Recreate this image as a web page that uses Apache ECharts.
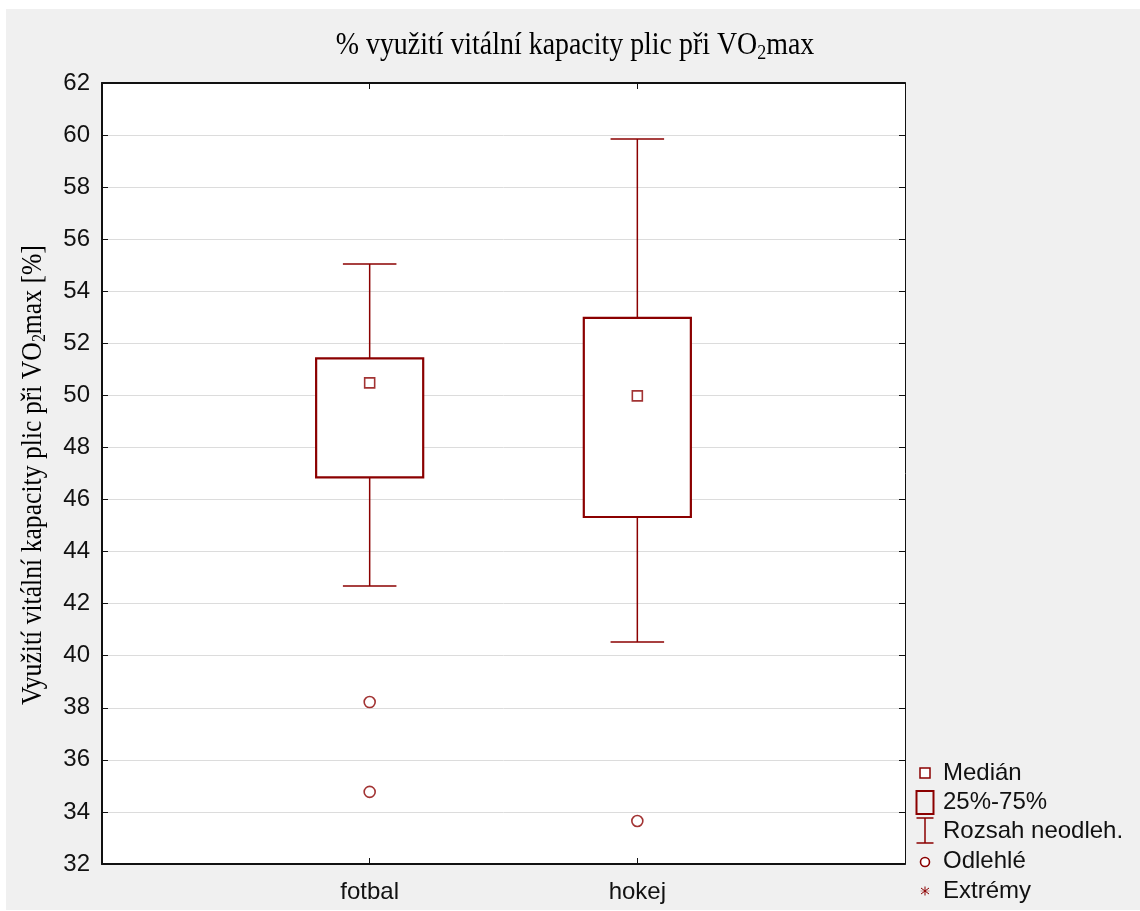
<!DOCTYPE html>
<html>
<head>
<meta charset="utf-8">
<script src="https://cdn.jsdelivr.net/npm/echarts@6/dist/echarts.min.js"></script>
<style>
html,body{margin:0;padding:0;background:#fff;}
#c{width:1140px;height:911px;}
</style>
</head>
<body>
<div id="c"></div>
<script>
// ---- data ----
const categories = ['fotbal', 'hokej'];
const whiskerLow  = [42.68, 40.53];
const q1          = [46.85, 45.33];
const median      = [50.48, 49.98];
const q3          = [51.42, 52.98];
const whiskerHigh = [55.05, 59.85];
const outlierCats = ['fotbal', 'fotbal', 'hokej'];
const outlierVals = [38.22, 34.77, 33.65];
const yTicks = { min: 32, max: 62, interval: 2 };
const legendLabels = ['Medián', '25%-75%', 'Rozsah neodleh.', 'Odlehlé', 'Extrémy'];
const titleText = '{a|% využití vitální kapacity plic při VO}{sub|2}{a|max}';
const yNameText = '{a|Využití vitální kapacity plic při VO}{sub|2}{a|max [%]}';

const RED = '#8B0000';
const SANS = 'Liberation Sans, Arial, sans-serif';
const SERIF = 'Liberation Serif, Times New Roman, serif';

const xCats = [''].concat(categories).concat(['']);
const boxData = categories.map((c, i) => [c, whiskerLow[i], q1[i], q3[i], whiskerHigh[i]]);
const medianData = categories.map((c, i) => [c, median[i]]);
const outlierData = outlierCats.map((c, i) => [c, outlierVals[i]]);

const chart = echarts.init(document.getElementById('c'), null, { renderer: 'canvas' });

const serifRich = (fs, sfs) => ({
  a: { fontFamily: SERIF, fontSize: fs, color: '#111', fontWeight: 'normal', lineHeight: fs + 4 },
  sub: { fontFamily: SERIF, fontSize: sfs, color: '#111', fontWeight: 'normal', lineHeight: 6, verticalAlign: 'bottom' }
});

// legend graphics
const lx = 925, ltx = 943;
const rows = [773, 802, 831, 861, 891];
const G = [
  { type: 'rect', left: 6, top: 9, shape: { width: 1134, height: 901 }, style: { fill: '#f0f0f0' }, z: -10, silent: true },
  { type: 'text', x: 575, y: 46, scaleX: 0.9, z: 10,
    style: { text: titleText, rich: serifRich(31, 20), textAlign: 'center', textVerticalAlign: 'middle' } },
  { type: 'text', x: 33, y: 475, rotation: Math.PI / 2, scaleX: 0.885, z: 10,
    style: { text: yNameText, rich: serifRich(29, 18), textAlign: 'center', textVerticalAlign: 'middle' } },
  { type: 'rect', shape: { x: lx - 5, y: rows[0] - 5, width: 10, height: 10 }, style: { fill: '#fff', stroke: RED, lineWidth: 1.5 } },
  { type: 'rect', shape: { x: lx - 8.5, y: rows[1] - 11, width: 17, height: 23 }, style: { fill: 'none', stroke: RED, lineWidth: 2 } },
  { type: 'line', shape: { x1: lx - 8.5, y1: rows[2] - 13, x2: lx + 8.5, y2: rows[2] - 13 }, style: { stroke: RED, lineWidth: 1.5 } },
  { type: 'line', shape: { x1: lx, y1: rows[2] - 13, x2: lx, y2: rows[2] + 12 }, style: { stroke: RED, lineWidth: 1.5 } },
  { type: 'line', shape: { x1: lx - 8.5, y1: rows[2] + 12, x2: lx + 8.5, y2: rows[2] + 12 }, style: { stroke: RED, lineWidth: 1.5 } },
  { type: 'circle', shape: { cx: lx, cy: rows[3] + 1, r: 4.5 }, style: { fill: '#fff', stroke: RED, lineWidth: 1.6 } },
  { type: 'line', shape: { x1: lx, y1: rows[4] - 4.5, x2: lx, y2: rows[4] + 4.5 }, style: { stroke: RED, lineWidth: 1 } },
  { type: 'line', shape: { x1: lx - 4, y1: rows[4] - 3, x2: lx + 4, y2: rows[4] + 3 }, style: { stroke: RED, lineWidth: 1 } },
  { type: 'line', shape: { x1: lx - 4, y1: rows[4] + 3, x2: lx + 4, y2: rows[4] - 3 }, style: { stroke: RED, lineWidth: 1 } },
  { type: 'line', shape: { x1: lx - 4.5, y1: rows[4], x2: lx + 4.5, y2: rows[4] }, style: { stroke: RED, lineWidth: 0.8, opacity: 0.5 } }
];
legendLabels.forEach((t, i) => {
  G.push({
    type: 'text', x: ltx, y: rows[i],
    style: { text: t, fill: '#111', font: '24px ' + SANS, textVerticalAlign: 'middle', textAlign: 'left' }
  });
});

const option = {
  backgroundColor: '#ffffff',
  animation: false,
  graphic: G,
  grid: { left: 102, top: 83, right: 235, bottom: 47, show: true, backgroundColor: '#ffffff', borderWidth: 0 },
  xAxis: [
    {
      type: 'category', data: xCats, boundaryGap: false, position: 'bottom',
      axisLine: { lineStyle: { color: '#111', width: 2 } },
      axisTick: { inside: true, length: 6, lineStyle: { color: '#111', width: 1 } },
      axisLabel: { color: '#111', fontFamily: SANS, fontSize: 24, margin: 16 },
      splitLine: { show: false }
    },
    {
      type: 'category', data: xCats, boundaryGap: false, position: 'top',
      axisLine: { lineStyle: { color: '#111', width: 2 } },
      axisTick: { inside: true, length: 6, lineStyle: { color: '#111', width: 1 } },
      axisLabel: { show: false },
      splitLine: { show: false }
    }
  ],
  yAxis: [
    {
      type: 'value', min: yTicks.min, max: yTicks.max, interval: yTicks.interval, position: 'left',
      axisLine: { show: true, lineStyle: { color: '#111', width: 2 } },
      axisTick: { show: true, inside: true, length: 6, lineStyle: { color: '#111', width: 1 } },
      axisLabel: { color: '#111', fontFamily: SANS, fontSize: 24, margin: 12 },
      splitLine: { show: true, lineStyle: { color: '#dcdcdc', width: 1 } }
    },
    {
      type: 'value', min: yTicks.min, max: yTicks.max, interval: yTicks.interval, position: 'right',
      axisLine: { show: true, lineStyle: { color: '#111', width: 1 } },
      axisTick: { show: true, inside: true, length: 6, lineStyle: { color: '#111', width: 1 } },
      axisLabel: { show: false },
      splitLine: { show: false }
    }
  ],
  series: [
    {
      type: 'custom', name: 'box', xAxisIndex: 0, yAxisIndex: 0,
      data: boxData,
      encode: { x: 0, y: [1, 2, 3, 4] },
      z: 2,
      renderItem: function (params, api) {
        const x = api.value(0);
        const lo = api.coord([x, api.value(1)]);
        const b1 = api.coord([x, api.value(2)]);
        const b3 = api.coord([x, api.value(3)]);
        const hi = api.coord([x, api.value(4)]);
        const band = api.size([1, 0])[0];
        const bw = band * 0.4, cw = band * 0.2;
        const cx = lo[0];
        const ws = { stroke: RED, lineWidth: 1.5 };
        return {
          type: 'group',
          children: [
            { type: 'line', shape: { x1: cx, y1: hi[1], x2: cx, y2: b3[1] }, style: ws },
            { type: 'line', shape: { x1: cx, y1: b1[1], x2: cx, y2: lo[1] }, style: ws },
            { type: 'line', shape: { x1: cx - cw / 2, y1: hi[1], x2: cx + cw / 2, y2: hi[1] }, style: ws },
            { type: 'line', shape: { x1: cx - cw / 2, y1: lo[1], x2: cx + cw / 2, y2: lo[1] }, style: ws },
            { type: 'rect', shape: { x: cx - bw / 2, y: b3[1], width: bw, height: b1[1] - b3[1] },
              style: { fill: '#fff', stroke: RED, lineWidth: 2.2 } }
          ]
        };
      }
    },
    {
      type: 'scatter', name: 'Medián', data: medianData, symbol: 'rect', symbolSize: 10, z: 5,
      itemStyle: { color: '#fff', borderColor: RED, borderWidth: 1.6 }
    },
    {
      type: 'scatter', name: 'Odlehlé', data: outlierData, symbol: 'circle', symbolSize: 11, z: 5,
      itemStyle: { color: '#fff', borderColor: RED, borderWidth: 1.6 }
    }
  ]
};
chart.setOption(option);
</script>
</body>
</html>
